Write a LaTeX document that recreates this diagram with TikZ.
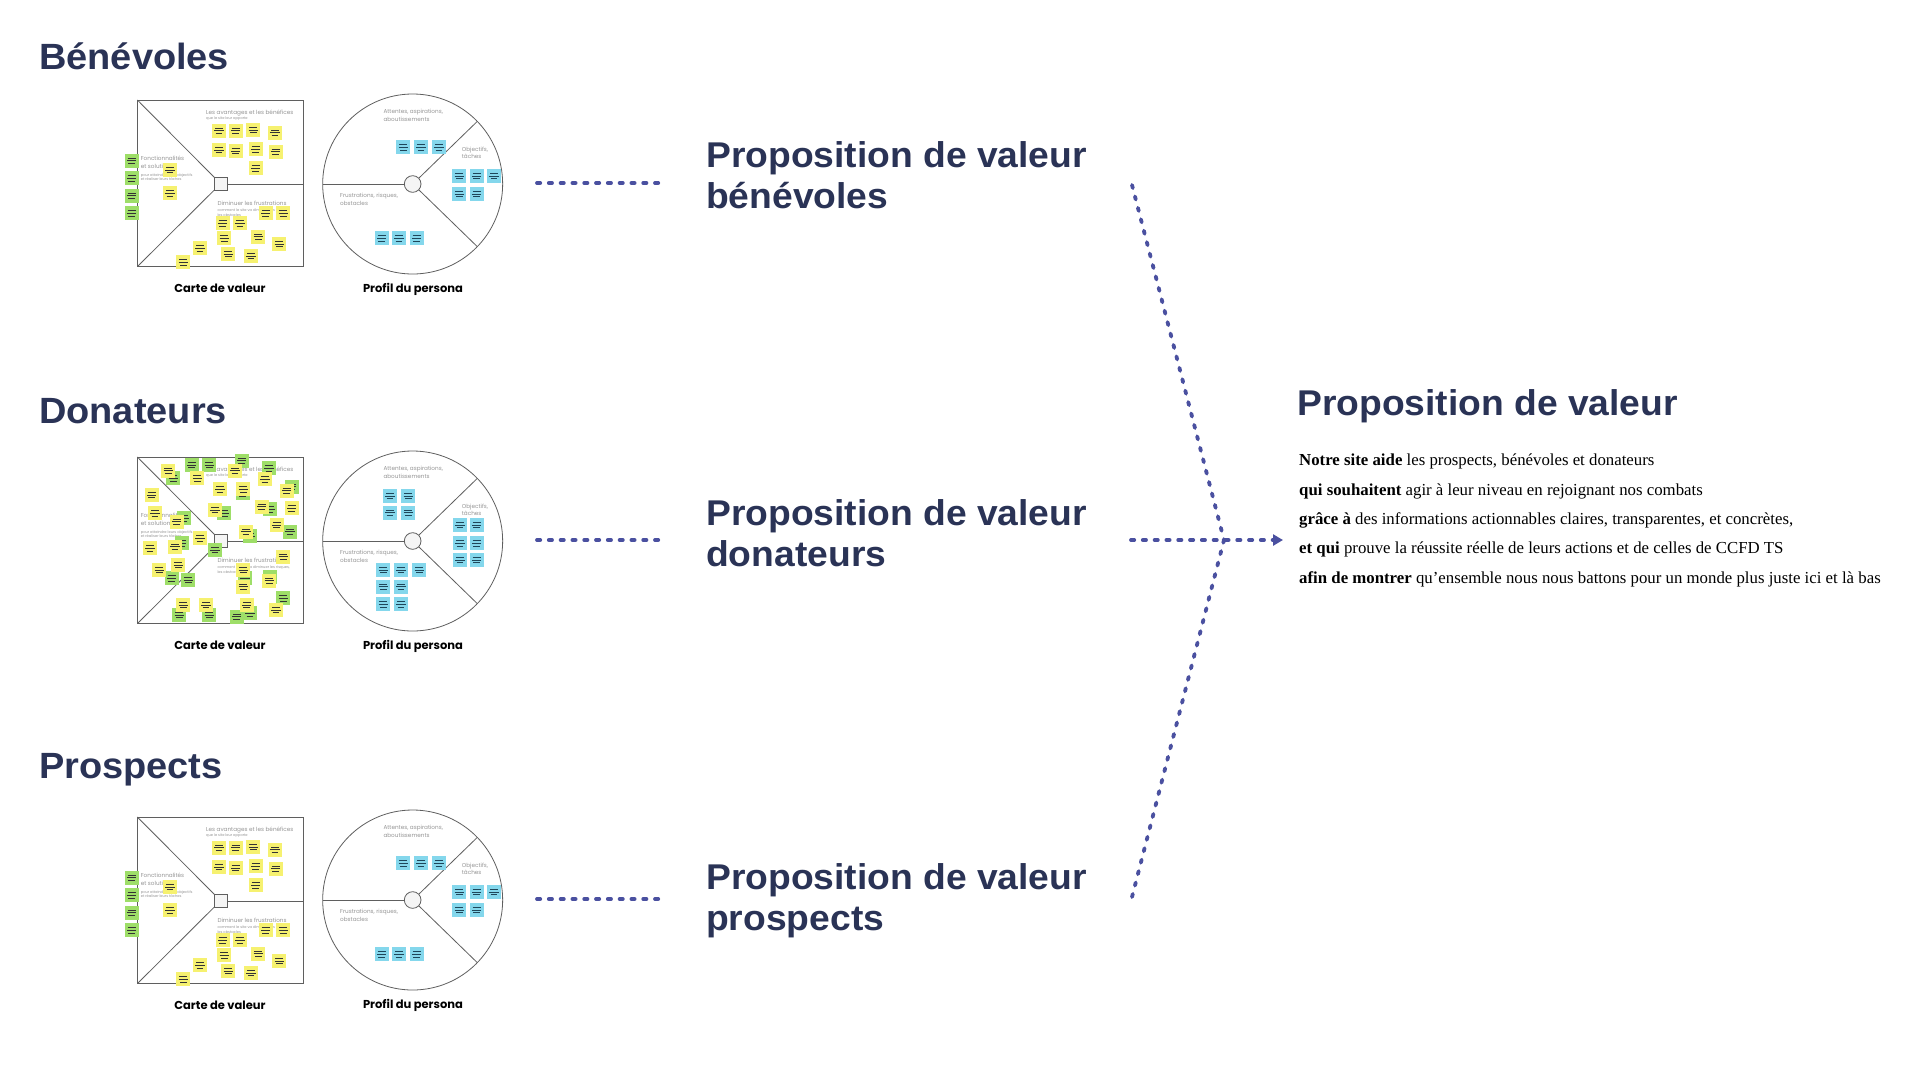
\documentclass[tikz,border=0pt]{standalone}
\usepackage{fontspec}
\setmainfont{Liberation Serif}
\newfontfamily\headfont[FakeStretch=1.04]{Liberation Sans}
\newfontfamily\popfont{Poppins}
\usetikzlibrary{arrows.meta}
\definecolor{navy}{RGB}{42,51,86}
\definecolor{dotblue}{RGB}{74,80,160}
\definecolor{noteY}{RGB}{246,241,112}
\definecolor{noteG}{RGB}{158,222,104}
\definecolor{noteB}{RGB}{132,215,236}
\definecolor{frameg}{RGB}{95,95,95}
\definecolor{labg}{RGB}{150,150,150}
\definecolor{lineB}{RGB}{30,70,90}
\tikzset{
  stkline/.style={line width=0.7pt},
  dotline/.style={dotblue, line width=3.8pt, line cap=round, dash pattern=on 3.2pt off 8.6pt},
  title/.style={font=\headfont\bfseries\fontsize{36.5}{41}\selectfont, text=navy, anchor=base west, inner sep=0pt},
  head/.style={font=\headfont\bfseries\fontsize{35.8}{41}\selectfont, text=navy, anchor=base west, inner sep=0pt},
  prop/.style={font=\headfont\bfseries\fontsize{35.8}{41}\selectfont, text=navy, align=left, anchor=north west, inner sep=0pt},
  caption/.style={font=\popfont\bfseries\fontsize{11.5}{14}\selectfont, anchor=base, inner sep=0pt},
  glabel/.style={font=\popfont\fontsize{5.7}{7}\selectfont, text=labg, anchor=base west, inner sep=0pt},
  gsub/.style={font=\popfont\fontsize{3.6}{4.5}\selectfont, text=labg, anchor=base west, inner sep=0pt},
  frame/.style={draw=frameg, line width=0.8pt},
  body/.style={font=\fontsize{16.8}{20}\selectfont, anchor=base west, inner sep=0pt},
}
% sticky note: x, y, fill colour, line colour
\newcommand\stk[4]{%
  \fill[#3] ({#1-21},{#2-21}) rectangle ({#1+21},{#2+21});
  \draw[stkline,#4] ({#1-12},{#2-8}) -- ({#1+12},{#2-8});
  \draw[stkline,#4] ({#1-14},{#2}) -- ({#1+14},{#2});
  \draw[stkline,#4] ({#1-10},{#2+8}) -- ({#1+10},{#2+8});
}
\newcommand\vmnotesA{%
  \foreach \x/\y in {35/212,35/265,35/317,35/370}{\stk{\x}{\y}{noteG}{black!80}}
  \foreach \x/\y in {297/122,347/122,400/120,465/128,297/180,347/183,407/178,467/185,407/235,150/240,150/310,437/370,490/370,308/400,360/400,313/445,415/440,478/462,240/475,325/492,393/498,190/517}{\stk{\x}{\y}{noteY}{black!80}}
}
\newcommand\vmnotesB{%
  \foreach \x/\y in {160/85,215/45,268/45,365/32,447/55,368/130,515/110,313/190,450/178,510/245,390/258,192/205,185/280,285/300,155/385,205/390,375/385,450/380,490/445,390/490,178/495,268/495,350/500}{\stk{\x}{\y}{noteG}{black!80}}
  \foreach \x/\y in {145/62,232/85,345/62,435/88,300/118,370/118,500/122,285/180,425/170,515/175,470/225,378/245,95/135,105/190,170/215,90/295,165/290,240/265,118/360,175/345,490/320,370/360,370/410,448/392,468/480,380/465,190/465,258/465}{\stk{\x}{\y}{noteY}{black!80}}
}
\newcommand\ppnotesA{%
  \foreach \x/\y in {265/187,318/187,372/187,433/273,485/273,537/273,433/327,485/327,200/460,252/460,305/460}{\stk{\x}{\y}{noteB}{lineB}}
}
\newcommand\ppnotesB{%
  \foreach \x/\y in {225/153,280/153,225/203,280/203,435/240,485/240,435/295,485/295,435/345,485/345,205/375,258/375,313/375,205/425,258/425,205/478,258/478}{\stk{\x}{\y}{noteB}{lineB}}
}
\begin{document}
\begin{tikzpicture}[x=1pt,y=-1pt]
\useasboundingbox[fill=white] (0,0) rectangle (1920,1080);

% section titles
\node[title] (tBen) at (39,69) {Bénévoles};
\node[title] (tDon) at (39,423) {Donateurs};
\node[title] (tPro) at (39,778) {Prospects};

% value maps (frames and labels)
\foreach \r/\off in {1/0,2/357,3/717}{
  \begin{scope}[shift={(120,90+\off)}, x=0.33333pt, y=-0.33333pt]
    \draw[frame] (52,30) rectangle (550,530);
    \draw[frame] (52,30) -- (283,262);
    \draw[frame] (52,530) -- (283,300);
    \draw[frame] (322,283) -- (550,283);
    \draw[frame, fill=black!4] (283,262) rectangle (322,302);
    \node[glabel] (av\r) at (258,72) {Les avantages et les bénéfices};
    \node[gsub] (avs\r) at (258,89) {que le site leur apporte};
    \node[glabel] (fo\r) at (62,212) {Fonctionnalités};
    \node[glabel] (fob\r) at (62,235) {et solutions};
    \node[gsub] (fos\r) at (62,258) {pour atteindre leurs objectifs};
    \node[gsub] (fot\r) at (62,272) {et réaliser leurs tâches};
    \node[glabel] (di\r) at (292,346) {Diminuer les frustrations};
    \node[gsub] (dis\r) at (292,365) {comment le site va diminuer les risques,};
    \node[gsub] (dit\r) at (292,379) {les obstacles};
  \end{scope}
  \node[caption] (cv\r) at (220,292+\off) {Carte de valeur};
}
\begin{scope}[shift={(120,90)}, x=0.33333pt, y=-0.33333pt]\vmnotesA\end{scope}
\begin{scope}[shift={(120,450)}, x=0.33333pt, y=-0.33333pt]\vmnotesB\end{scope}
\begin{scope}[shift={(120,807)}, x=0.33333pt, y=-0.33333pt]\vmnotesA\end{scope}

% persona profiles
\foreach \r/\off in {1/0,2/357,3/716}{
  \begin{scope}[shift={(315,85+\off)}, x=0.33333pt, y=-0.33333pt]
    \draw[frame] (293,297) circle [radius=270];
    \draw[frame] (23,297) -- (268,297);
    \draw[frame] (311,280) -- (487,109);
    \draw[frame] (311,314) -- (487,485);
    \draw[frame, fill=black!4] (293,297) circle [radius=25];
    \node[glabel] (at\r) at (205,85) {Attentes, aspirations,};
    \node[glabel] (atb\r) at (205,108) {aboutissements};
    \node[glabel] (ob\r) at (440,200) {Objectifs,};
    \node[glabel] (obb\r) at (440,221) {tâches};
    \node[glabel] (fr\r) at (75,338) {Frustrations, risques,};
    \node[glabel] (frb\r) at (75,360) {obstacles};
  \end{scope}
  \node[caption] (pp\r) at (413,292+\off) {Profil du persona};
}
\begin{scope}[shift={(315,85)}, x=0.33333pt, y=-0.33333pt]\ppnotesA\end{scope}
\begin{scope}[shift={(315,445)}, x=0.33333pt, y=-0.33333pt]\ppnotesB\end{scope}
\begin{scope}[shift={(315,801)}, x=0.33333pt, y=-0.33333pt]\ppnotesA\end{scope}

% propositions per segment
\node[prop] (p1) at (706,141) {Proposition de valeur\\bénévoles};
\node[prop] (p2) at (706,499) {Proposition de valeur\\donateurs};
\node[prop] (p3) at (706,863) {Proposition de valeur\\prospects};

% short dotted connectors
\coordinate (s1a) at (537,183); \coordinate (s1b) at (660,183);
\coordinate (s2a) at (537,540); \coordinate (s2b) at (660,540);
\coordinate (s3a) at (537,899); \coordinate (s3b) at (660,899);
\draw[dotline] (s1a) -- (s1b);
\draw[dotline] (s2a) -- (s2b);
\draw[dotline] (s3a) -- (s3b);

% converging connectors
\coordinate (l1) at (1132,185);
\coordinate (l3) at (1132,897);
\coordinate (jn) at (1224,540);
\coordinate (h0) at (1131,540);
\coordinate (h1) at (1283,540);
\draw[dotline] (l1) -- (jn);
\draw[dotline] (l3) -- (jn);
\draw[dotline, -{Triangle[length=10pt,width=11pt]}] (h0) -- (h1);

% final value proposition
\node[head] (hv) at (1297,415) {Proposition de valeur};
\node[body] (b1) at (1299,465) {\textbf{Notre site aide} les prospects, bénévoles et donateurs};
\node[body] (b2) at (1299,495) {\textbf{qui souhaitent} agir à leur niveau en rejoignant nos combats};
\node[body] (b3) at (1299,524) {\textbf{grâce à} des informations actionnables claires, transparentes, et concrètes,};
\node[body] (b4) at (1299,553) {\textbf{et qui} prouve la réussite réelle de leurs actions et de celles de CCFD TS};
\node[body] (b5) at (1299,583) {\textbf{afin de montrer} qu'ensemble nous nous battons pour un monde plus juste ici et là bas};
\end{tikzpicture}
\end{document}
